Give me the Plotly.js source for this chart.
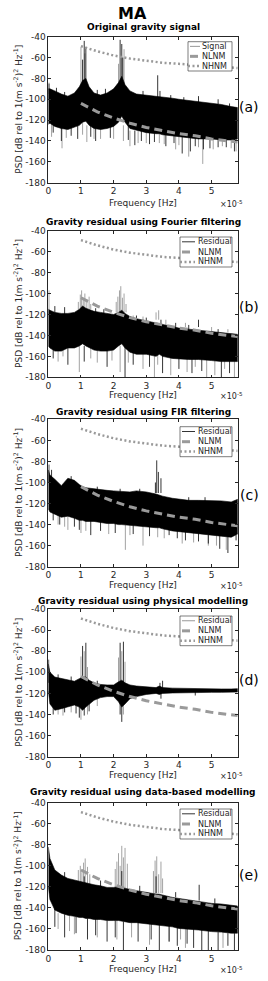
<!DOCTYPE html>
<html>
<head>
<meta charset="utf-8">
<script src="https://cdn.plot.ly/plotly-3.0.1.min.js"></script>
<style>html,body{margin:0;padding:0;background:#fff;}#chart{width:268px;height:981px;}</style>
</head>
<body>
<div id="chart"></div>
<script>
// Frequency grid in units of 1e-5 Hz
const freqGrid = [0, 0.05, 0.2, 0.4, 0.6, 0.8, 0.95, 1.05, 1.15, 1.25, 1.4, 1.6, 1.8, 2.0, 2.15, 2.25, 2.35, 2.5, 2.7, 3.0, 3.3, 3.4, 3.5, 3.8, 4.0, 4.3, 4.6, 5.0, 5.3, 5.6, 5.8];

// Noise models
const modelFreq = [1.0, 1.5, 2.0, 2.5, 3.0, 3.5, 4.0, 4.5, 5.0, 5.5, 5.8];
const nlnm = [-104, -112, -118, -123, -127, -130, -133, -135, -138, -140, -141];
const nhnm = [-49, -54, -58, -61, -63, -65, -66, -67, -68, -69.5, -70];

// (a) Original gravity signal: band envelope and spikes [freq, from, to]
const aHi = [-90,-90,-92,-95,-97,-94,-88,-82,-80,-88,-94,-96,-94,-90,-84,-78,-86,-92,-95,-96,-97,-97,-98,-99,-100,-101,-102,-104,-105,-107,-108];
const aLo = [-124,-123,-126,-128,-129,-127,-125,-122,-121,-125,-128,-129,-128,-126,-122,-116,-122,-128,-130,-132,-133,-133,-134,-135,-136,-137,-138,-138,-139,-139,-138];
const aSpikesDark = [[1.1,-90,-44],[1.15,-90,-50],[1.05,-90,-62],[2.2,-90,-43],[2.25,-90,-47],[2.28,-90,-60],[3.35,-100,-77],[3.42,-100,-92],[0.02,-100,-85],[0.5,-100,-93],[1.5,-100,-91],[2.9,-100,-92],[4.6,-105,-97],[5.2,-105,-100],[0.25,-100,-89],[1.75,-100,-90],[3.75,-105,-96],[4.15,-105,-98],[5.55,-110,-104],
  [0.4,-125,-140],[0.9,-125,-138],[1.45,-125,-140],[2.65,-130,-144],[3.1,-130,-143],[3.6,-130,-145],[4.1,-135,-152],[4.35,-135,-150],[4.75,-135,-148],[5.2,-135,-146],[5.7,-135,-150],
  [0.15,-120,-132],[0.7,-125,-135],[1.3,-125,-136],[1.9,-125,-137],[2.45,-125,-139],[2.85,-130,-140],[3.25,-130,-141],[3.85,-130,-142],[4.5,-135,-145],[4.95,-135,-147],[5.45,-135,-146]];
const aSpikesGray = [[1.0,-90,-50],[1.12,-90,-56],[2.32,-90,-52],[2.15,-90,-66],[0.02,-95,-84],
  [0.42,-125,-147],[1.18,-125,-141],[2.3,-125,-140],[3.55,-130,-143],[4.3,-135,-155],[4.73,-135,-162],[5.75,-135,-150],[1.6,-125,-138],[2.5,-130,-145],[3.9,-135,-148],[5.33,-135,-145],
  [0.1,-120,-136],[0.55,-125,-137],[1.05,-120,-134],[1.4,-125,-138],[2.0,-125,-138],[2.75,-130,-142],[3.0,-130,-142],[3.4,-130,-142],[4.0,-135,-144],[4.6,-135,-146],[5.05,-135,-148],[5.6,-135,-147]];

// (b) Fourier filtering residual
const bHi = [-115,-116,-118,-119,-119,-118,-115,-112,-114,-115,-117,-118,-119,-120,-118,-116,-119,-122,-124,-126,-128,-129,-130,-132,-133,-134,-135,-136,-137.5,-138,-139];
const bLo = [-150,-152,-155,-155,-152,-152,-150,-148,-150,-152,-154,-155,-155,-154,-150,-148,-152,-156,-158,-158,-160,-158,-160,-162,-162,-163,-163,-164,-165,-165,-165];
const bSpikesDark = [[4.6,-132,-125],[0.5,-125,-113],[1.7,-125,-115],[3.0,-130,-123],[3.9,-133,-128],[0.2,-125,-112],[1.45,-125,-114],[2.7,-130,-121],[3.45,-130,-125],[4.3,-135,-130],[5.2,-138,-134],
  [0.6,-150,-168],[1.8,-152,-170],[2.35,-150,-180],[3.5,-157,-176],[4.4,-160,-176],[5.3,-162,-180],[0.15,-150,-162],[1.1,-150,-165],[2.6,-155,-168],[3.1,-155,-170],[4.0,-160,-172],[4.7,-160,-174],[5.55,-162,-176]];
const bSpikesGray = [[0.02,-120,-97],[0.92,-115,-108],[0.98,-115,-101],[1.02,-115,-97],[1.07,-115,-104],[1.12,-115,-100],[1.18,-115,-106],[1.25,-115,-103],[1.3,-115,-110],
  [2.08,-118,-108],[2.13,-118,-103],[2.18,-118,-97],[2.22,-118,-93],[2.27,-118,-104],[2.32,-118,-100],[2.38,-118,-110],[3.3,-125,-118],[3.38,-125,-116],
  [2.6,-125,-121],[2.9,-128,-122],[3.6,-130,-125],[4.2,-132,-128],[5.0,-136,-132],[5.5,-137,-134],
  [0.3,-150,-165],[0.95,-150,-175],[1.5,-152,-166],[2.2,-150,-175],[2.9,-155,-172],[3.25,-155,-180],[3.75,-158,-178],[4.25,-160,-175],[4.85,-160,-180],[5.1,-160,-178],[5.7,-160,-180],
  [0.45,-150,-160],[1.3,-150,-162],[1.95,-152,-164],[2.45,-152,-166],[3.35,-155,-168],[4.5,-160,-170],[5.4,-162,-172]];

// (c) FIR filtering residual
const cHi = [-88,-93,-97,-103,-96,-98,-102,-104,-105,-105.5,-106,-107,-107.5,-108,-108.5,-108.5,-109,-109,-108,-109,-111,-112,-113,-115,-116,-117,-117,-117,-117.5,-118.5,-116];
const cLo = [-125,-128,-130,-133,-132,-134,-136,-136,-137,-137,-137,-138,-139,-139,-140,-140,-140,-141,-141,-142,-143,-143,-144,-146,-147,-148,-149,-150,-151,-152,-149];
const cSpikesDark = [[3.32,-110,-79],[3.37,-110,-90],[3.45,-110,-96],[3.28,-110,-100],[0.02,-100,-83],[0.1,-95,-88],[1.5,-108,-104],[2.8,-110,-106],[4.8,-118,-114],[0.7,-100,-94],[2.2,-110,-106],[4.3,-118,-114],
  [0.35,-130,-140],[0.95,-135,-145],[1.3,-135,-150],[2.05,-138,-148],[3.7,-144,-150],[4.2,-146,-155],[4.6,-148,-156],[5.25,-150,-163],[5.5,-150,-167],[5.75,-150,-155],
  [0.15,-125,-136],[0.8,-132,-142],[1.6,-136,-146],[2.6,-140,-149],[3.1,-140,-151],[3.95,-145,-153],[4.9,-148,-158]];
const cSpikesGray = [[0.3,-130,-140],[0.6,-132,-145],[1.0,-135,-148],[2.36,-140,-164],[2.9,-141,-160],[3.35,-142,-152],[4.1,-146,-158],[4.9,-150,-160],[5.45,-150,-164],
  [0.5,-130,-142],[1.15,-135,-146],[1.85,-137,-149],[2.5,-140,-150],[3.55,-142,-153],[4.45,-147,-157],[5.15,-150,-160]];

// (d) Physical modelling residual
const dHi = [-92,-100,-104.5,-106,-107.5,-108.5,-106,-104.5,-104.5,-107.5,-110,-111.5,-112,-112,-109,-107.5,-110,-112,-113,-114,-114.5,-113,-114.5,-115,-115.2,-115.5,-115.5,-115.8,-115.8,-115.8,-115.5];
const dLo = [-118,-130,-136,-134.5,-133,-131,-133,-136,-133,-130,-126.5,-124,-123,-123,-128,-133,-130,-125,-123,-121,-120,-121,-120,-119.6,-119.3,-119,-119,-119,-119,-119,-118.7];
const dSpikesDark = [[1.05,-108,-75],[1.15,-108,-72],[2.2,-110,-72],[2.3,-110,-71],[3.42,-116,-110],[3.5,-116,-108],[0.01,-110,-88],[0.3,-110,-102],[0.7,-110,-104],[1.5,-112,-108],
  [0.95,-125,-143],[2.25,-125,-147],[0.5,-130,-138],[3.45,-119,-125],[4.5,-118,-122],[1.1,-130,-141],[0.15,-130,-140],[0.85,-128,-139],[1.25,-128,-137],[2.2,-128,-140]];
const dSpikesGray = [[1.0,-108,-85],[1.1,-108,-80],[1.2,-108,-95],[2.15,-110,-86],[2.25,-110,-80],[2.35,-110,-90],
  [0.3,-130,-140],[0.7,-130,-138],[1.0,-130,-145],[2.3,-125,-140],[1.5,-124,-132],[0.45,-130,-141],[1.2,-128,-140]];

// (e) Data-based modelling residual
const eHi = [-82,-93,-104,-108.8,-112,-113.5,-115,-116,-116.7,-117.3,-118,-119,-120.5,-120.5,-120,-120.5,-121.4,-122.4,-123.6,-125.5,-126.8,-127,-127.8,-130,-131,-132.5,-134,-135.7,-136.3,-137.3,-138.2];
const eLo = [-120,-132,-142,-145,-147,-148,-149,-149,-150,-150,-151,-151,-152,-152,-152,-153,-153,-154,-154,-155,-156,-156,-157,-158,-159.5,-160,-161,-162.5,-163,-164,-164];
const eSpikesDark = [[4.62,-133,-118],[1.1,-118,-110],[2.25,-122,-105],[3.3,-126,-110],[0.5,-115,-106],[1.6,-120,-114],[2.8,-125,-119],[3.9,-130,-125],[5.1,-136,-131],
  [0.5,-146,-168],[1.2,-150,-170],[1.8,-152,-172],[2.3,-153,-180],[2.75,-154,-172],[3.4,-156,-180],[3.95,-158,-176],[4.45,-160,-178],[4.7,-161,-180],[4.9,-162,-180],[5.2,-163,-180],[5.5,-164,-176],[5.7,-164,-180],
  [0.2,-140,-158],[0.85,-148,-164],[1.45,-150,-166],[2.05,-152,-168],[3.15,-155,-170],[3.7,-157,-172],[4.25,-159,-174]];
const eSpikesGray = [[0.92,-118,-104],[0.98,-118,-100],[1.03,-118,-106],[1.08,-118,-97],[1.13,-118,-93],[1.2,-118,-101],[1.27,-118,-108],
  [2.05,-122,-103],[2.1,-122,-96],[2.15,-122,-88],[2.2,-122,-100],[2.25,-122,-81],[2.3,-122,-92],[2.35,-122,-83],[2.42,-122,-98],
  [3.22,-126,-105],[3.27,-126,-95],[3.32,-126,-91],[3.38,-126,-108],[3.45,-126,-96],[3.5,-126,-112],
  [0.3,-145,-160],[0.8,-148,-165],[1.5,-150,-168],[2.1,-152,-170],[3.1,-155,-175],[3.7,-157,-172],[4.2,-159,-178],[5.35,-163,-178],[0.65,-147,-162],[2.55,-154,-168],[4.05,-159,-170]];

const panelTitles = ['Original gravity signal', 'Gravity residual using Fourier filtering', 'Gravity residual using FIR filtering', 'Gravity residual using physical modelling', 'Gravity residual using data-based modelling'];
const panelTags = ['(a)', '(b)', '(c)', '(d)', '(e)'];
const seriesNames = ['Signal', 'Residual', 'Residual', 'Residual', 'Residual'];
const xTickVals = [0, 1, 2, 3, 4, 5];
const xTickText = ['0', '1', '2', '3', '4', '5'];
const yTickVals = [-180, -160, -140, -120, -100, -80, -60, -40];
const yTickText = ['-180', '-160', '-140', '-120', '-100', '-80', '-60', '-40'];

const bands = [[aHi, aLo], [bHi, bLo], [cHi, cLo], [dHi, dLo], [eHi, eLo]];
const spikesDark = [aSpikesDark, bSpikesDark, cSpikesDark, dSpikesDark, eSpikesDark];
const spikesGray = [aSpikesGray, bSpikesGray, cSpikesGray, dSpikesGray, eSpikesGray];

// ---------- layout geometry (pixels) ----------
const W = 268, H = 981;
const FONT = 'DejaVu Sans, Arial, sans-serif';
const plotL = 48.3, plotR = 237.7;
const panels = [
  {top: 36.7, bot: 182.7, title: 27.5, xlab: 203, tag: 107, leg: {l: 188, r: 232, t: 41.7, b: 71, sx0: 190, sx1: 200, tx: 200}},
  {top: 230.7, bot: 377.3, title: 221.5, xlab: 395, tag: 307, leg: {l: 180, r: 232, t: 237, b: 267, sx0: 182, sx1: 195, tx: 196}},
  {top: 419.3, bot: 566.7, title: 411.5, xlab: 585, tag: 495, leg: {l: 180, r: 232, t: 426.7, b: 456.7, sx0: 182, sx1: 195, tx: 196}},
  {top: 609, bot: 756.7, title: 600.5, xlab: 775, tag: 680, leg: {l: 180, r: 232, t: 616, b: 645.7, sx0: 182, sx1: 195, tx: 196}},
  {top: 802.7, bot: 950, title: 792, xlab: 969, tag: 875, leg: {l: 180, r: 232, t: 809, b: 839, sx0: 182, sx1: 195, tx: 196}}
];
const px = v => v / W;
const py = v => 1 - v / H;

function spikeXY(list) {
  const x = [], y = [];
  list.forEach(s => { x.push(s[0], s[0], null); y.push(s[1], s[2], null); });
  return {x, y};
}

const traces = [];
const layout = {
  width: W, height: H,
  margin: {l: 0, r: 0, t: 0, b: 0},
  paper_bgcolor: '#fff', plot_bgcolor: '#fff',
  showlegend: false,
  font: {family: FONT, color: '#262626', size: 9},
  annotations: [], shapes: []
};

const lineGray = '#9a9a9a';

panels.forEach((p, i) => {
  const sfx = i === 0 ? '' : String(i + 1);
  const xa = 'x' + sfx, ya = 'y' + sfx;
  const [hi, lo] = bands[i];
  const g = spikeXY(spikesGray[i]);
  traces.push({x: g.x, y: g.y, xaxis: xa, yaxis: ya, type: 'scatter', mode: 'lines', line: {color: '#8c8c8c', width: 0.8}, hoverinfo: 'skip', name: seriesNames[i]});
  const d = spikeXY(spikesDark[i]);
  traces.push({x: d.x, y: d.y, xaxis: xa, yaxis: ya, type: 'scatter', mode: 'lines', line: {color: '#000', width: 0.8}, hoverinfo: 'skip', name: seriesNames[i]});
  traces.push({
    x: freqGrid.concat(freqGrid.slice().reverse()),
    y: hi.concat(lo.slice().reverse()),
    xaxis: xa, yaxis: ya, type: 'scatter', mode: 'lines', fill: 'toself',
    fillcolor: '#000', line: {color: '#000', width: 0.6}, name: seriesNames[i]
  });
  traces.push({x: modelFreq, y: nlnm, xaxis: xa, yaxis: ya, type: 'scatter', mode: 'lines', name: 'NLNM', line: {color: lineGray, width: 3, dash: '8px,5px'}});
  traces.push({x: modelFreq, y: nhnm, xaxis: xa, yaxis: ya, type: 'scatter', mode: 'lines', name: 'NHNM', line: {color: lineGray, width: 2.5, dash: '2px,2.5px'}});

  const yDom = [py(p.bot), py(p.top)];
  layout['xaxis' + sfx] = {
    domain: [px(plotL), px(plotR)], anchor: ya, range: [0, 5.8],
    tickvals: xTickVals, ticktext: xTickText, ticks: 'inside', ticklen: 3, tickwidth: 0.6, tickcolor: '#262626',
    showline: true, linecolor: '#262626', linewidth: 0.6, mirror: 'ticks', showgrid: false, zeroline: false,
    tickfont: {family: FONT, size: 9, color: '#262626'}, fixedrange: true
  };
  layout['yaxis' + sfx] = {
    domain: yDom, anchor: xa, range: [-180, -40],
    tickvals: yTickVals, ticktext: yTickText, ticks: 'inside', ticklen: 3, tickwidth: 0.6, tickcolor: '#262626',
    showline: true, linecolor: '#262626', linewidth: 0.6, mirror: 'ticks', showgrid: false, zeroline: false,
    tickfont: {family: FONT, size: 9, color: '#262626'}, fixedrange: true
  };

  const A = layout.annotations;
  A.push({text: '<b>' + panelTitles[i] + '</b>', xref: 'paper', yref: 'paper', x: px((plotL + plotR) / 2), y: py(p.title), xanchor: 'center', yanchor: 'middle', showarrow: false, font: {family: FONT, size: 9, color: '#000'}});
  A.push({text: 'Frequency [Hz]', xref: 'paper', yref: 'paper', x: px(142.5), y: py(p.xlab), xanchor: 'center', yanchor: 'middle', showarrow: false, font: {family: FONT, size: 9, color: '#262626'}});
  A.push({text: '\u00d710<sup>-5</sup>', xref: 'paper', yref: 'paper', x: px(232), y: py(p.xlab + 1), xanchor: 'center', yanchor: 'middle', showarrow: false, font: {family: FONT, size: 8, color: '#262626'}});
  A.push({text: 'PSD [dB rel to 1(m s<sup>-2</sup>)<sup>2</sup> Hz<sup>-1</sup>]', xref: 'paper', yref: 'paper', x: px(18), y: py((p.top + p.bot) / 2), xanchor: 'center', yanchor: 'middle', textangle: -90, showarrow: false, font: {family: FONT, size: 9, color: '#262626'}});
  A.push({text: panelTags[i], xref: 'paper', yref: 'paper', x: px(249), y: py(p.tag), xanchor: 'center', yanchor: 'middle', showarrow: false, font: {family: FONT, size: 14, color: '#000'}});

  // legend box
  const L = p.leg;
  const rows = [L.t + (L.b - L.t) * 0.16, L.t + (L.b - L.t) * 0.5, L.t + (L.b - L.t) * 0.83];
  layout.shapes.push({type: 'rect', xref: 'paper', yref: 'paper', x0: px(L.l), x1: px(L.r), y0: py(L.b), y1: py(L.t), fillcolor: '#fff', line: {color: '#262626', width: 0.6}, layer: 'above'});
  const seriesColor = (i === 0 || i === 3) ? '#7f7f7f' : '#000';
  layout.shapes.push({type: 'line', xref: 'paper', yref: 'paper', x0: px(L.sx0), x1: px(L.sx1), y0: py(rows[0]), y1: py(rows[0]), line: {color: seriesColor, width: 0.8}, layer: 'above'});
  layout.shapes.push({type: 'line', xref: 'paper', yref: 'paper', x0: px(L.sx0), x1: px(L.sx1), y0: py(rows[1]), y1: py(rows[1]), line: {color: lineGray, width: 3, dash: '8px,5px'}, layer: 'above'});
  layout.shapes.push({type: 'line', xref: 'paper', yref: 'paper', x0: px(L.sx0 - 2), x1: px(L.sx1), y0: py(rows[2]), y1: py(rows[2]), line: {color: lineGray, width: 2.5, dash: '2px,2.5px'}, layer: 'above'});
  [seriesNames[i], 'NLNM', 'NHNM'].forEach((t, k) => {
    A.push({text: t, xref: 'paper', yref: 'paper', x: px(L.tx), y: py(rows[k]), xanchor: 'left', yanchor: 'middle', showarrow: false, font: {family: FONT, size: 8, color: '#262626'}});
  });
});

layout.annotations.push({text: '<b>MA</b>', xref: 'paper', yref: 'paper', x: px(132), y: py(13), xanchor: 'center', yanchor: 'middle', showarrow: false, font: {family: FONT, size: 16, color: '#000'}});

Plotly.newPlot('chart', traces, layout, {displayModeBar: false, responsive: false});
</script>
</body>
</html>
